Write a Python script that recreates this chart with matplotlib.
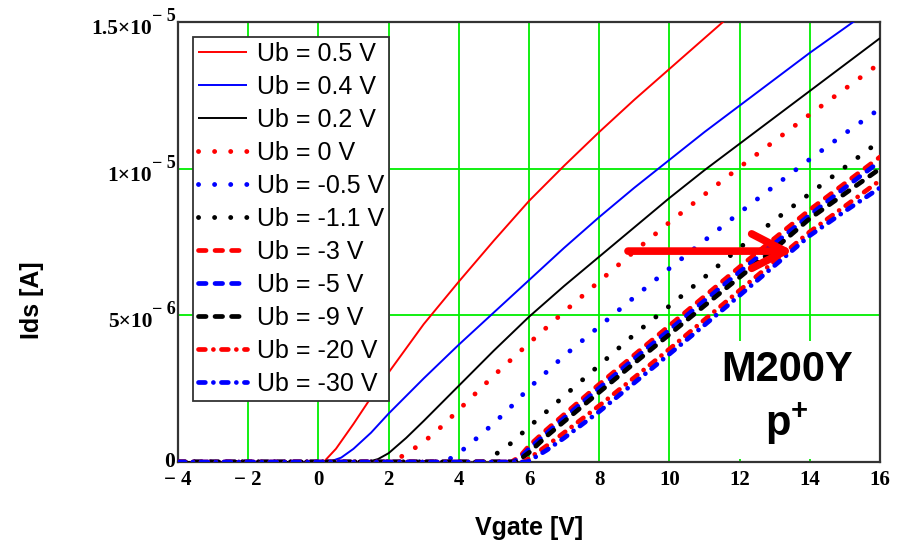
import numpy as np
import matplotlib
matplotlib.use("Agg")
import matplotlib.pyplot as plt

# Transfer curves Ids(Vgate) for several bulk voltages, Ids in uA
vg_p05 = [-4, 0.15, 0.5, 1, 1.5, 2, 3, 4, 5, 6, 7, 8, 9, 10, 11, 12]
id_p05 = [0, 0, 0.45, 1.3, 2.2, 3.05, 4.7, 6.15, 7.55, 8.9, 10.1, 11.25, 12.35, 13.4, 14.45, 15.5]

vg_p04 = [-4, 0.3, 0.65, 1, 1.5, 2, 3, 4, 5, 6, 7, 8, 9, 10, 11, 12, 13, 14, 15, 16]
id_p04 = [0, 0, 0.15, 0.45, 1.0, 1.65, 2.85, 4.0, 5.1, 6.2, 7.3, 8.35, 9.35, 10.3, 11.25, 12.15,
          13.05, 13.95, 14.8, 15.65]

vg_p02 = [-4, 1.4, 1.7, 2, 2.5, 3, 4, 5, 6, 7, 8, 9, 10, 11, 12, 13, 14, 15, 16]
id_p02 = [0, 0, 0.1, 0.3, 0.82, 1.4, 2.6, 3.8, 4.95, 6.0, 7.0, 8.0, 9.0, 9.95, 10.85, 11.75,
          12.65, 13.55, 14.45]

vg_0 = [-4, 2.1, 2.5, 3, 3.5, 4, 5, 6, 7, 8, 9, 10, 11, 12, 13, 14, 15, 16]
id_0 = [0, 0, 0.28, 0.68, 1.2, 1.78, 2.95, 4.05, 5.12, 6.16, 7.18, 8.17, 9.12, 10.05, 10.95,
        11.85, 12.72, 13.6]

vg_m05 = [-4, 3.6, 4, 4.5, 5, 5.5, 6, 7, 8, 9, 10, 11, 12, 13, 14, 15, 16]
id_m05 = [0, 0, 0.3, 0.8, 1.32, 1.9, 2.52, 3.62, 4.62, 5.62, 6.6, 7.55, 8.5, 9.42, 10.32, 11.2, 12.05]

vg_m11 = [-4, 4.7, 5, 5.5, 6, 6.5, 7, 8, 9, 10, 11, 12, 13, 14, 15, 16]
id_m11 = [0, 0, 0.22, 0.65, 1.2, 1.72, 2.25, 3.3, 4.35, 5.32, 6.3, 7.3, 8.25, 9.15, 10.05, 10.95]

vg_m3 = [-4, 5.5, 5.75, 6, 6.5, 7, 8, 9, 10, 11, 12, 13, 14, 15, 16]
id_m3 = [0, 0, 0.2, 0.55, 1.1, 1.62, 2.65, 3.65, 4.65, 5.65, 6.65, 7.63, 8.6, 9.5, 10.4]

vg_m5 = [-4, 5.55, 5.8, 6, 6.5, 7, 8, 9, 10, 11, 12, 13, 14, 15, 16]
id_m5 = [0, 0, 0.2, 0.45, 0.98, 1.5, 2.52, 3.52, 4.5, 5.5, 6.48, 7.45, 8.42, 9.35, 10.25]

vg_m9 = [-4, 5.65, 6, 6.5, 7, 8, 9, 10, 11, 12, 13, 14, 15, 16]
id_m9 = [0, 0, 0.32, 0.88, 1.38, 2.38, 3.37, 4.35, 5.33, 6.3, 7.27, 8.3, 9.15, 10.0]

vg_m20 = [-4, 5.85, 6, 6.5, 7, 8, 9, 10, 11, 12, 13, 14, 15, 16]
id_m20 = [0, 0, 0.12, 0.55, 1.0, 1.92, 2.88, 3.85, 4.85, 5.85, 6.85, 7.85, 8.72, 9.6]

vg_m30 = [-4, 5.95, 6.5, 7, 8, 9, 10, 11, 12, 13, 14, 15, 16]
id_m30 = [0, 0, 0.4, 0.82, 1.72, 2.7, 3.68, 4.67, 5.68, 6.7, 7.72, 8.55, 9.35]

labels = ["Ub = 0.5 V", "Ub = 0.4 V", "Ub = 0.2 V", "Ub = 0 V", "Ub = -0.5 V",
          "Ub = -1.1 V", "Ub = -3 V", "Ub = -5 V", "Ub = -9 V", "Ub = -20 V", "Ub = -30 V"]

x_ticks = [-4, -2, 0, 2, 4, 6, 8, 10, 12, 14, 16]
x_ticklabels = ["\u2212 4", "\u2212 2", "0", "2", "4", "6", "8", "10", "12", "14", "16"]
y_ticks = [0, 5e-6, 1e-5, 1.5e-5]
y_mant = ["0", "5\u00d710", "1\u00d710", "1.5\u00d710"]
y_exp = ["", "\u2212 6", "\u2212 5", "\u2212 5"]

# arrow showing the shift of the curves (Vgate, Ids in uA)
arrow_from = (8.82, 7.19)
arrow_to = (13.53, 7.19)

UA = 1e-6

solid = "-"
dotted = (0, (0.01, 3.3))
dashed = (0, (1.6, 1.9))
dashdot = (0, (1.45, 1.7, 0.01, 1.7))

curves = [
    (vg_p05, id_p05, "red", solid, 1.4),
    (vg_p04, id_p04, "blue", solid, 1.4),
    (vg_p02, id_p02, "black", solid, 1.4),
    (vg_0, id_0, "red", dotted, 3.5),
    (vg_m05, id_m05, "blue", dotted, 3.5),
    (vg_m11, id_m11, "black", dotted, 3.5),
    (vg_m3, id_m3, "red", dashed, 3.4),
    (vg_m5, id_m5, "blue", dashed, 3.4),
    (vg_m9, id_m9, "black", dashed, 3.4),
    (vg_m20, id_m20, "red", dashdot, 3.4),
    (vg_m30, id_m30, "blue", dashdot, 3.4),
]

sans = "Liberation Sans"
serif = "Liberation Serif"
plt.rcParams["mathtext.fontset"] = "custom"
plt.rcParams["mathtext.rm"] = "Liberation Sans:bold"
plt.rcParams["mathtext.bf"] = "Liberation Sans:bold"

fig = plt.figure(figsize=(9.05, 5.45), dpi=100)
ax = fig.add_axes([0.1967, 0.1523, 0.7757, 0.8073])

for (vg, ids, color, ls, lw), lab in zip(curves, labels):
    ax.plot(vg, np.array(ids) * UA, color=color, linestyle=ls, linewidth=lw,
            dash_capstyle="round", solid_capstyle="butt", label=lab, zorder=3)

ax.set_xlim(-4, 16)
ax.set_ylim(0, 1.5e-5)
ax.set_xticks(x_ticks)
ax.set_xticklabels(x_ticklabels, fontfamily=serif, fontweight="bold", fontsize=15)
ax.set_yticks(y_ticks)
ax.set_yticklabels([])
ax.tick_params(length=0, pad=6)
ax.grid(True, color="#00ee00", linewidth=1.3, zorder=0)
ax.set_axisbelow(True)
for sp in ax.spines.values():
    sp.set_color("#333333")
    sp.set_linewidth(1.6)

# Mathcad-style y tick labels: mantissa plus raised exponent
ytrans = ax.get_yaxis_transform()
for yv, m, e in zip(y_ticks, y_mant, y_exp):
    if e:
        ax.annotate(m, xy=(0, yv), xycoords=ytrans, xytext=(-18.5, -5), textcoords="offset points",
                    ha="right", va="center", fontfamily=serif, fontweight="bold", fontsize=15.5)
        ax.annotate(e, xy=(0, yv), xycoords=ytrans, xytext=(-18.5, 4), textcoords="offset points",
                    ha="left", va="center", fontfamily=serif, fontweight="bold", fontsize=13)
    else:
        ax.annotate(m, xy=(0, yv), xycoords=ytrans, xytext=(-2, 0), textcoords="offset points",
                    ha="right", va="center", fontfamily=serif, fontweight="bold", fontsize=15.5)

leg = ax.legend(loc="upper left", bbox_to_anchor=(0.0214, 0.966), borderaxespad=0,
                fancybox=False, framealpha=1, edgecolor="#333333",
                prop={"family": sans, "size": 18}, handlelength=1.95, handletextpad=0.4,
                labelspacing=0.36, borderpad=0.2)
leg.get_frame().set_linewidth(1.3)
leg.set_zorder(5)

ax.annotate("", xy=(arrow_to[0], arrow_to[1] * UA), xytext=(arrow_from[0], arrow_from[1] * UA),
            arrowprops=dict(arrowstyle="->, head_length=1.2, head_width=0.62", color="red",
                            lw=5.5, mutation_scale=20, shrinkA=0, shrinkB=0), zorder=6)

ax.text(0.8675, 0.144, "M200Y\np$^{+}$", transform=ax.transAxes, ha="center", va="center",
        fontfamily=sans, fontweight="bold", fontsize=30, linespacing=1.3, zorder=4,
        bbox=dict(facecolor="white", edgecolor="none", pad=8))

fig.text(0.0354, 0.4495, "Ids [A]", rotation=90, ha="center", va="center",
         fontfamily=sans, fontweight="bold", fontsize=18)
fig.text(0.5845, 0.031, "Vgate [V]", ha="center", va="center",
         fontfamily=sans, fontweight="bold", fontsize=18)

fig.savefig("out.png", dpi=100)
